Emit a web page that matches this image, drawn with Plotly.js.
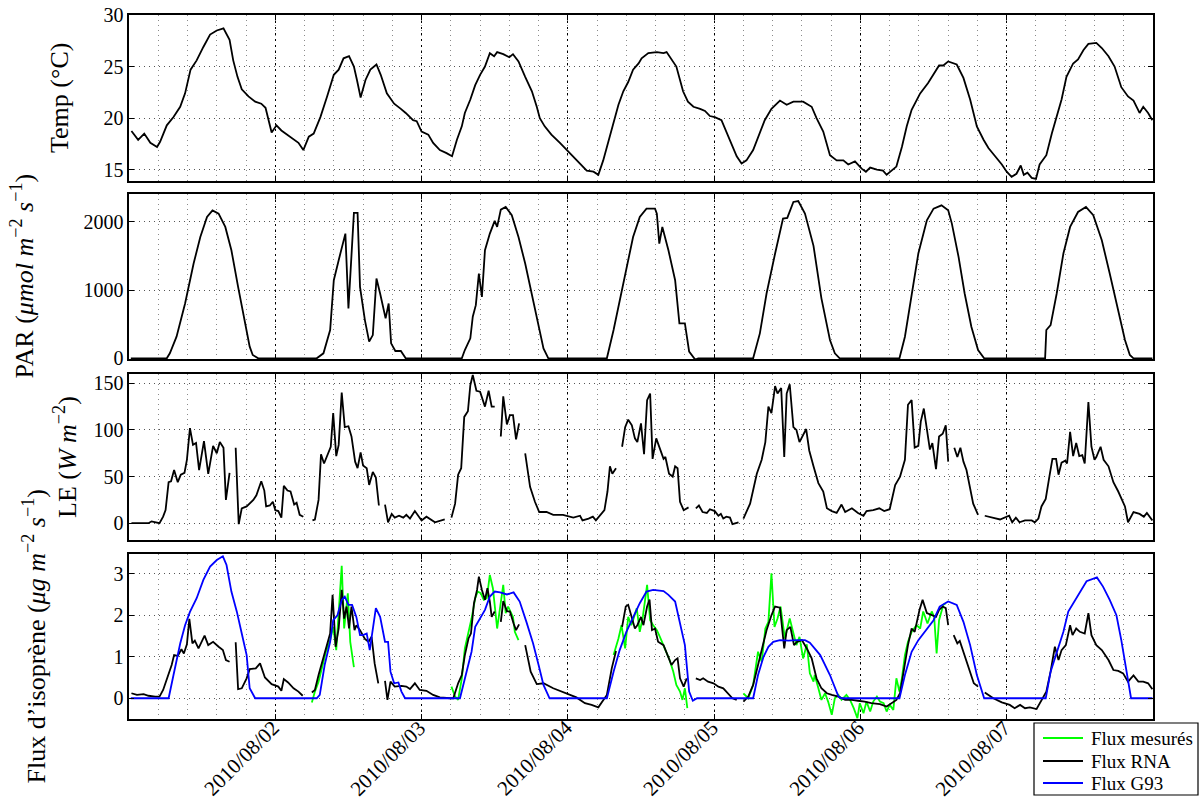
<!DOCTYPE html>
<html>
<head>
<meta charset="utf-8">
<script src="https://cdn.plot.ly/plotly-3.0.1.min.js"></script>
<style>html,body{margin:0;padding:0;background:#fff;}#chart{width:1201px;height:810px;}</style>
</head>
<body>
<div id="chart"></div>
<script>
// ---- DATA (hours since 2010-08-01 00:00, value) ----
const dayTickLabels = ["2010/08/02","2010/08/03","2010/08/04","2010/08/05","2010/08/06","2010/08/07"];
const dayTickHours = [24,48,72,96,120,144];

const tempSeries = [[0.4,18.75],[1.5,17.9],[2.5,18.5],[3.5,17.6],[4.6,17.2],[5.1,17.7],[6.2,19.3],[7.3,20.1],[8.4,21.1],[9.2,22.4],[10.1,24.7],[11.1,25.6],[12.2,26.9],[13.3,28.1],[14.4,28.5],[15.5,28.7],[16.5,27.6],[17.1,25.6],[17.8,24.0],[18.5,22.8],[19.6,22.1],[20.7,21.6],[21.7,21.4],[22.4,21.0],[23.4,18.6],[24.2,19.3],[25.0,18.8],[25.9,18.4],[27.0,18.0],[27.8,17.6],[28.6,16.9],[29.5,18.2],[30.3,18.5],[31.4,20.1],[32.5,22.1],[33.6,24.2],[34.4,24.7],[35.2,25.8],[36.1,26.0],[36.9,25.0],[37.4,23.7],[38.0,22.0],[38.8,23.7],[39.6,24.7],[40.6,25.2],[41.3,24.2],[42.3,22.4],[43.5,21.4],[44.6,20.9],[45.4,20.5],[46.6,19.8],[47.2,19.7],[48.0,18.7],[49.1,18.4],[49.9,17.6],[51.0,16.9],[52.1,16.6],[53.0,16.3],[53.8,17.9],[54.6,19.2],[55.1,20.5],[56.0,21.8],[56.8,23.2],[57.6,24.2],[58.4,25.0],[59.2,26.3],[59.9,26.0],[60.4,26.4],[61.4,26.2],[62.4,25.9],[63.0,26.2],[63.9,25.5],[65.0,24.0],[66.1,22.6],[66.9,21.1],[67.4,20.0],[68.2,19.2],[69.3,18.4],[70.7,17.6],[71.8,16.9],[72.9,16.3],[74.0,15.6],[75.1,14.9],[76.2,14.8],[77.0,14.5],[77.8,15.9],[78.6,17.6],[79.4,19.5],[80.3,21.3],[81.1,22.6],[81.9,23.5],[82.7,24.7],[83.6,25.3],[84.1,25.8],[85.2,26.3],[86.6,26.4],[87.7,26.3],[88.2,26.4],[89.0,25.7],[89.8,25.0],[90.4,23.7],[90.9,22.6],[91.7,21.6],[92.6,21.1],[93.7,20.9],[94.5,20.7],[95.3,20.2],[96.1,20.1],[97.2,19.8],[98.3,18.2],[99.7,16.3],[100.5,15.6],[101.3,15.9],[102.4,16.9],[103.2,18.2],[104.3,19.8],[105.4,20.9],[106.8,21.7],[107.9,21.3],[109.0,21.6],[110.6,21.6],[112.0,21.1],[112.8,20.0],[113.9,18.7],[115.0,16.4],[116.1,15.9],[117.2,15.9],[118.0,15.5],[119.1,15.8],[120.2,15.1],[120.9,14.8],[121.6,15.2],[122.7,15.0],[123.7,14.9],[124.3,14.5],[125.1,14.9],[125.9,15.3],[126.8,17.2],[127.6,19.2],[128.4,20.8],[129.8,22.4],[131.1,23.4],[132.0,24.2],[132.9,25.1],[133.6,25.1],[134.4,25.5],[135.8,25.2],[136.9,23.9],[138.0,21.8],[139.1,19.2],[140.2,17.9],[141.0,17.1],[142.1,16.3],[143.2,15.5],[144.0,14.8],[144.8,14.3],[145.6,14.6],[146.3,15.4],[146.8,14.5],[147.4,14.7],[148.1,14.2],[148.8,14.1],[149.4,15.5],[150.5,16.4],[151.4,18.5],[152.2,20.1],[153.0,21.8],[153.8,24.0],[154.9,25.3],[155.7,25.7],[156.6,26.6],[157.4,27.2],[158.7,27.3],[159.6,26.8],[160.7,26.0],[161.7,25.0],[162.8,23.0],[163.9,22.1],[164.8,21.7],[165.8,20.5],[166.4,21.1],[167.2,20.5],[167.9,19.8]];

const parSeries = [[0.3,0],[6.2,0],[6.7,73],[7.8,317],[9.2,805],[10.6,1390],[11.7,1780],[12.8,2073],[13.7,2170],[14.7,2122],[15.8,1927],[16.8,1585],[17.9,1049],[19.0,561],[19.8,171],[20.3,49],[21.2,0],[30.8,0],[31.9,73],[33.0,415],[33.6,1146],[34.4,1439],[35.0,1634],[35.5,1829],[36.0,732],[36.9,2132],[37.5,2132],[37.9,1049],[38.7,561],[39.4,244],[40.0,341],[40.6,1171],[41.2,951],[42.1,585],[42.6,805],[43.0,220],[43.7,107],[44.6,107],[45.4,0],[54.6,0],[55.1,122],[55.7,254],[56.0,293],[56.4,610],[56.9,780],[57.4,1244],[57.9,902],[58.4,1585],[59.2,1829],[60.0,2015],[60.4,1927],[61.0,2180],[61.8,2220],[62.8,2098],[63.9,1780],[65.0,1390],[66.1,951],[67.2,512],[68.0,146],[68.8,0],[78.4,0],[79.5,415],[80.6,878],[81.6,1341],[82.7,1780],[83.8,2073],[84.9,2195],[86.3,2195],[86.6,2122],[87.0,1683],[87.5,1927],[88.5,1585],[89.6,1146],[90.3,512],[91.2,512],[91.9,98],[92.9,-20],[93.4,0],[102.4,0],[103.5,366],[104.6,951],[106.0,1537],[107.3,2049],[108.0,2059],[109.0,2293],[109.8,2307],[110.9,2122],[112.3,1650],[113.6,880],[115.0,268],[115.8,73],[116.6,0],[126.4,0],[127.3,317],[128.4,902],[129.5,1537],[130.9,2024],[132.0,2195],[133.3,2244],[134.4,2170],[135.0,1976],[136.1,1488],[137.1,951],[138.2,463],[139.3,122],[140.3,0],[150.3,0],[150.5,415],[151.2,488],[152.2,951],[153.3,1537],[154.4,1927],[155.7,2146],[157.0,2220],[158.2,2098],[159.6,1732],[160.9,1244],[162.3,707],[163.4,268],[164.2,49],[164.8,0],[167.9,0]];

const leSeries = [[0.4,0],[3.2,0],[3.7,2],[4.3,1],[5.0,0],[5.6,7],[6.0,14],[6.5,44],[6.9,45],[7.4,57],[8.0,44],[8.5,52],[9.1,54],[9.5,68],[10.0,102],[10.5,84],[11.0,86],[11.5,57],[12.3,88],[13.0,53],[13.8,83],[14.4,75],[14.9,87],[15.5,81],[15.9,25],[16.5,54],[17.0,null],[17.5,81],[18.0,-1],[18.5,16],[19.3,18],[20.4,25],[20.9,30],[21.7,45],[22.2,35],[22.5,18],[23.1,19],[23.6,23],[24.0,14],[24.5,13],[25.0,6],[25.4,40],[26.0,35],[26.5,34],[27.1,20],[27.5,22],[28.0,9],[28.6,7],[29.3,null],[30.1,3],[30.5,4],[31.1,25],[31.5,74],[32.0,64],[32.7,75],[33.1,82],[33.5,118],[34.0,72],[34.4,84],[34.9,140],[35.4,103],[36.0,104],[36.5,93],[37.1,66],[37.5,59],[38.0,76],[38.4,62],[39.0,59],[39.4,41],[40.0,55],[40.5,49],[41.0,19],[41.5,null],[42.0,20],[42.5,1],[43.1,10],[43.6,6],[44.3,8],[45.0,6],[45.5,9],[46.1,5],[46.9,13],[47.7,5],[48.0,3],[48.8,7],[50.2,1],[51.8,4],[52.3,null],[52.9,6],[53.5,21],[54.0,52],[54.5,59],[55.0,114],[55.6,120],[56.0,148],[56.4,159],[57.0,142],[57.6,141],[58.4,125],[59.0,142],[59.5,125],[60.0,125],[60.5,null],[61.0,93],[61.4,136],[62.0,106],[62.5,116],[63.0,116],[63.5,90],[64.0,107],[64.5,null],[65.0,75],[65.8,39],[66.6,23],[67.3,12],[68.5,12],[69.6,9],[71.2,9],[72.9,6],[74.0,8],[74.4,3],[75.4,5],[76.1,7],[76.6,3],[77.3,9],[78.0,14],[78.5,34],[78.9,61],[79.3,53],[79.9,59],[80.4,null],[80.9,82],[81.4,103],[81.9,111],[82.5,105],[83.0,91],[83.4,87],[84.0,107],[84.5,74],[85.0,132],[85.5,139],[85.9,69],[86.5,91],[87.1,80],[87.7,69],[88.0,71],[88.6,53],[89.2,50],[89.6,61],[90.0,59],[90.4,23],[91.0,14],[91.8,17],[92.4,null],[93.0,16],[93.5,19],[94.1,12],[94.8,11],[95.3,15],[96.1,13],[96.7,8],[97.1,10],[97.5,5],[98.0,7],[98.6,6],[99.0,-1],[100.0,1],[100.4,null],[100.8,5],[101.9,21],[103.0,53],[103.8,68],[104.4,87],[104.9,125],[105.4,118],[106.0,147],[106.4,139],[107.0,145],[107.5,71],[107.9,139],[108.4,149],[109.0,103],[109.5,100],[110.0,87],[111.1,101],[111.6,78],[112.3,61],[113.1,43],[113.9,34],[114.5,16],[115.3,13],[116.1,11],[116.9,20],[117.5,12],[118.6,16],[119.6,11],[120.5,8],[121.0,13],[122.1,14],[123.1,16],[123.9,13],[124.8,15],[125.7,41],[126.5,50],[127.3,68],[127.8,127],[128.4,132],[128.9,81],[129.5,83],[129.9,109],[130.4,123],[131.0,93],[131.4,79],[131.8,86],[132.4,58],[132.9,93],[133.5,96],[134.0,105],[134.4,66],[134.9,null],[135.4,81],[135.9,71],[136.4,81],[136.9,66],[137.4,57],[138.0,37],[138.5,21],[139.3,9],[139.8,null],[140.4,8],[141.8,6],[142.9,4],[144.4,8],[144.9,1],[145.5,6],[146.1,1],[147.0,3],[148.1,3],[148.6,1],[149.2,5],[149.7,18],[150.4,26],[151.0,50],[151.5,69],[152.1,69],[152.5,52],[153.0,65],[153.6,67],[153.9,64],[154.4,98],[154.9,72],[155.4,86],[155.9,72],[156.4,73],[156.8,64],[157.4,130],[157.9,82],[158.4,68],[158.7,71],[159.4,82],[159.9,68],[160.7,61],[161.5,44],[162.3,34],[163.4,18],[163.9,1],[164.8,12],[165.8,10],[166.5,7],[167.0,11],[167.9,3]];

const fluxMesures = [[30.0,-0.10],[30.5,0.16],[31.1,0.40],[31.6,0.72],[32.3,1.12],[33.0,1.40],[33.5,1.72],[34.0,1.16],[34.4,2.17],[34.9,3.19],[35.3,1.68],[35.9,2.53],[36.3,1.36],[36.9,0.75],[37.5,null],[52.9,0.28],[53.5,0.04],[54.0,-0.04],[54.6,0.48],[55.1,1.20],[55.7,1.60],[56.2,1.92],[56.8,2.41],[57.2,2.57],[57.7,2.53],[58.2,2.37],[58.7,2.41],[59.2,2.97],[59.7,2.65],[60.4,1.68],[61.4,2.73],[61.8,2.05],[62.2,2.21],[63.0,1.96],[63.3,1.60],[63.9,1.40],[64.5,null],[79.5,1.04],[80.3,1.44],[80.8,1.76],[81.4,1.20],[81.9,1.96],[82.4,1.76],[82.7,1.88],[83.3,2.17],[83.8,1.60],[84.3,1.96],[85.0,2.73],[85.5,1.88],[86.0,1.76],[86.6,1.64],[87.1,1.48],[87.7,1.28],[88.2,1.08],[88.7,0.92],[89.3,0.64],[89.8,0.32],[90.4,0.16],[90.8,-0.04],[91.2,0.24],[91.6,-0.24],[92.2,null],[100.8,0.12],[101.6,0],[102.4,0.32],[103.2,1.12],[103.8,0.88],[104.4,1.68],[104.9,1.84],[105.4,3.01],[105.9,1.72],[106.4,1.92],[106.9,2.21],[107.6,1.44],[108.4,1.92],[109.0,1.60],[109.5,1.28],[110.0,1.48],[110.6,0.96],[111.2,1.30],[111.7,0.60],[112.3,0.40],[112.5,0.56],[113.1,0.24],[113.6,-0.04],[114.2,0.12],[114.7,-0.08],[115.3,-0.40],[115.8,0],[116.4,0.08],[116.9,-0.04],[117.7,0.08],[118.3,-0.04],[118.9,-0.24],[119.5,-0.48],[119.9,-0.12],[120.5,-0.36],[121.0,-0.08],[121.6,-0.32],[122.1,-0.08],[122.7,0.04],[123.2,-0.08],[123.8,-0.12],[124.3,-0.32],[124.8,-0.16],[125.4,-0.28],[125.9,0.48],[126.4,0.16],[126.8,0.48],[127.3,1.04],[127.8,1.36],[128.4,1.60],[129.2,1.76],[129.8,1.68],[130.3,2.09],[131.0,1.80],[131.7,2.09],[132.1,1.96],[132.5,1.08],[132.9,1.88],[133.6,2.25],[134.0,2.29]];

const fluxRNA = [[0.4,0.12],[1.3,0.08],[2.4,0.10],[3.2,0.06],[4.3,0.04],[5.0,0.04],[5.6,0.20],[6.5,0.60],[7.0,0.80],[7.4,1.04],[8.0,1.02],[8.6,1.18],[9.0,1.08],[9.5,1.30],[9.9,1.91],[10.4,1.32],[10.8,1.39],[11.4,1.20],[12.4,1.51],[13.0,1.28],[13.8,1.36],[14.7,1.24],[15.4,1.16],[15.9,0.92],[16.5,0.88],[17.0,null],[17.5,1.35],[17.9,0.22],[18.5,0.24],[19.3,0.48],[19.8,0.70],[20.8,0.72],[21.5,0.84],[22.3,0.50],[23.4,0.34],[24.5,0.28],[25.0,0.18],[25.4,0.46],[26.1,0.38],[27.0,0.24],[27.8,0.16],[28.5,0.06],[29.3,null],[30.0,0.14],[30.5,0.20],[31.1,0.56],[31.6,0.84],[32.3,1.20],[33.0,1.56],[33.4,2.49],[33.9,1.24],[34.4,1.68],[34.9,2.61],[35.3,1.92],[35.7,2.21],[36.1,1.68],[36.5,2.21],[37.0,1.64],[37.3,1.76],[37.9,1.64],[38.7,1.43],[39.3,1.36],[39.8,1.48],[40.3,0.84],[40.9,0.36],[41.5,null],[42.0,0.42],[42.4,-0.04],[42.9,0.40],[43.6,0.28],[44.7,0.30],[45.5,0.28],[46.1,0.22],[46.9,0.36],[47.7,0.20],[48.8,0.18],[49.9,0.08],[51.0,0.02],[52.7,0],[53.2,0],[54.0,0.36],[54.6,0.56],[55.1,1.04],[55.7,1.44],[56.1,1.56],[56.6,2.29],[57.1,2.61],[57.4,2.93],[57.9,2.61],[58.4,2.37],[58.8,2.65],[59.2,2.33],[59.5,1.96],[60.0,2.09],[60.5,null],[61.0,1.84],[61.4,2.34],[62.0,2.10],[62.5,2.09],[63.1,1.80],[63.5,1.64],[64.0,1.78],[64.5,null],[65.0,1.28],[65.9,0.64],[66.9,0.34],[68.0,0.36],[69.6,0.24],[71.8,0.12],[73.4,0.02],[74.8,-0.12],[75.9,-0.16],[77.0,-0.22],[77.5,-0.12],[78.4,0.08],[79.2,0.72],[79.9,1.14],[80.4,null],[80.9,1.72],[81.5,2.21],[81.9,2.25],[82.5,1.96],[83.0,1.68],[83.4,1.76],[84.0,1.96],[84.4,1.76],[85.0,2.21],[85.4,2.38],[85.8,1.64],[86.3,1.68],[86.8,1.36],[87.7,1.28],[88.5,0.96],[89.0,0.80],[89.6,0.92],[90.0,0.96],[90.4,0.48],[91.0,0.28],[91.5,0.48],[92.2,null],[93.0,0.48],[93.7,0.44],[94.2,0.48],[95.0,0.40],[95.9,0.36],[96.7,0.28],[97.5,0.24],[98.3,0.12],[99.0,0],[99.7,-0.04],[100.3,null],[100.8,-0.08],[101.6,0.04],[102.4,0.32],[103.5,0.96],[104.6,1.64],[105.4,2.00],[106.0,2.21],[106.8,2.18],[107.5,1.20],[107.9,1.64],[108.5,1.72],[109.1,1.28],[109.6,1.36],[110.4,1.40],[111.2,1.20],[112.0,0.96],[112.8,0.48],[113.6,0.24],[114.5,0.12],[115.3,0.08],[116.4,0.04],[117.5,-0.04],[118.6,-0.04],[119.6,-0.06],[120.7,-0.08],[121.8,-0.12],[123.2,-0.14],[124.3,-0.20],[125.1,-0.12],[125.9,-0.04],[126.5,0.12],[127.3,0.88],[127.8,1.28],[128.4,1.68],[128.9,1.60],[129.7,2.13],[130.2,2.37],[130.9,2.05],[131.7,2.00],[132.4,1.96],[132.9,2.13],[133.5,2.21],[134.0,2.17],[134.4,1.76],[134.9,null],[135.3,1.52],[135.9,1.32],[136.3,1.38],[136.9,1.12],[137.4,0.92],[138.0,0.64],[138.6,0.36],[139.3,0.28],[139.8,null],[140.4,0.14],[141.8,0],[143.2,-0.10],[144.5,-0.16],[145.3,-0.24],[146.2,-0.16],[147.0,-0.24],[147.8,-0.22],[148.9,-0.26],[149.7,-0.04],[150.5,0.16],[151.2,0.64],[151.9,1.24],[152.5,0.92],[153.0,1.16],[153.7,1.28],[154.4,1.76],[154.8,1.52],[155.4,1.68],[156.0,1.60],[156.8,1.56],[157.4,2.05],[157.9,1.52],[158.7,1.28],[159.6,1.16],[160.7,0.92],[161.5,0.68],[162.3,0.66],[163.1,0.60],[163.9,0.40],[164.8,0.55],[165.6,0.40],[166.4,0.40],[167.2,0.36],[167.9,0.22]];

const fluxG93 = [[0.3,0],[6.5,0],[7.3,0.56],[8.4,1.32],[9.2,1.76],[10.0,2.08],[11.1,2.41],[12.2,2.85],[13.3,3.17],[14.4,3.33],[15.4,3.42],[16.0,3.21],[16.8,2.57],[17.7,2.08],[18.5,1.56],[19.3,1.04],[19.8,0.24],[20.7,0],[30.8,0],[31.3,0.08],[32.1,0.80],[33.0,1.36],[33.5,1.88],[34.2,2.00],[34.9,2.37],[35.4,2.45],[36.0,2.25],[36.6,2.25],[37.3,1.96],[37.9,1.52],[38.4,1.52],[39.0,1.56],[39.5,1.16],[40.0,1.64],[40.5,2.17],[41.2,1.96],[42.0,1.36],[42.5,1.36],[42.9,0.64],[43.5,0.36],[44.2,0.38],[44.7,0.16],[45.3,0],[54.3,0],[55.1,0.48],[55.7,0.84],[56.2,1.12],[56.8,1.72],[57.6,1.92],[58.4,2.13],[59.2,2.45],[60.0,2.57],[60.9,2.55],[62.0,2.50],[63.1,2.55],[64.1,2.33],[65.2,1.84],[66.3,1.32],[67.2,0.80],[68.0,0.32],[69.0,0],[78.4,0],[79.5,0.64],[80.5,1.16],[81.6,1.60],[82.7,1.96],[83.8,2.29],[84.9,2.57],[86.0,2.61],[87.7,2.58],[88.5,2.49],[89.6,2.33],[90.4,1.84],[91.2,1.28],[91.9,0.16],[92.5,-0.06],[93.2,0],[102.4,0],[103.2,0.56],[104.1,1.00],[104.9,1.24],[105.7,1.36],[106.8,1.40],[108.2,1.39],[109.5,1.40],[110.9,1.40],[111.7,1.34],[113.4,1.04],[115.0,0.56],[116.4,0.04],[116.9,0],[126.4,0],[127.3,0.56],[128.4,1.12],[129.5,1.40],[130.9,1.68],[132.0,1.88],[133.0,2.21],[134.4,2.33],[135.8,2.25],[136.9,1.84],[138.0,1.28],[139.1,0.56],[140.3,0],[150.4,0],[151.2,0.64],[152.2,1.12],[153.3,1.60],[154.1,2.09],[154.9,2.29],[155.9,2.53],[157.1,2.82],[158.8,2.91],[159.8,2.69],[160.9,2.37],[162.0,2.00],[162.8,1.40],[163.7,0.56],[164.4,0],[167.9,0]];

const seriesNames = ["Flux mesurés","Flux RNA","Flux G93"];
const seriesColors = ["#00ff00","#000000","#0000ff"];

// ---- helpers ----
const T0 = Date.UTC(2010, 7, 1);
function toDate(h){ const d = new Date(T0 + h*3600000); return d.toISOString().replace('T',' ').slice(0,19); }
function xs(s){ return s.map(p => toDate(p[0])); }
function ys(s){ return s.map(p => p[1]); }

const FONT = "Liberation Serif, Times New Roman, serif";
const LW = 1.8;

function line(series, color, xa, ya, name){
  return {type:'scatter', mode:'lines', x: xs(series), y: ys(series), xaxis: xa, yaxis: ya,
    line:{color: color, width: LW}, connectgaps:false, name: name || 'serie', showlegend:false, hoverinfo:'skip'};
}

const traces = [
  line(tempSeries, '#000', 'x', 'y', 'Temp'),
  line(parSeries, '#000', 'x2', 'y2', 'PAR'),
  line(leSeries, '#000', 'x3', 'y3', 'LE'),
  line(fluxMesures, seriesColors[0], 'x4', 'y4', seriesNames[0]),
  line(fluxRNA, seriesColors[1], 'x4', 'y4', seriesNames[1]),
  line(fluxG93, seriesColors[2], 'x4', 'y4', seriesNames[2])
];

// ---- layout ----
const W = 1201, H = 810, ML = 129, MR = 48, MT = 15, MB = 91;
const PW = W - ML - MR, PH = H - MT - MB;
const plotBottom = H - MB;
function px2x(px){ return (px - ML)/PW; }
function px2y(py){ return (plotBottom - py)/PH; }
function dom(topPx, botPx){ return [px2y(botPx), px2y(topPx)]; }
const panels = [[15,181],[194,359],[374,540],[554,719]];

const tickVals = dayTickHours.map(toDate);
function xaxis(i){
  const ax = {
    type:'date', range:[toDate(0), toDate(168)], anchor: 'y'+(i===1?'':i),
    tickmode:'array', tickvals: tickVals, showticklabels: false,
    ticks:'inside', ticklen:5, tickcolor:'#000', tickwidth:1,
    showline:true, linecolor:'#000', linewidth:1.6, mirror:'ticks',
    showgrid:true, gridcolor:'#000', gridwidth:1.2, griddash:'2px,4px',
    minor:{tickmode:'linear', tick0: toDate(0), dtick: 0.2*86400000, showgrid:true, gridcolor:'#8a8a8a', gridwidth:1, griddash:'1px,4px', ticks:''},
    zeroline:false, fixedrange:true
  };
  if (i !== 1) ax.matches = 'x';
  return ax;
}
function yaxis(i, range, tv){
  return {
    domain: dom(panels[i-1][0], panels[i-1][1]), anchor: 'x'+(i===1?'':i), range: range,
    tickmode:'array', tickvals: tv, tickfont:{family:FONT, size:20, color:'#000'},
    ticks:'inside', ticklen:5, tickcolor:'#000', tickwidth:1,
    showline:true, linecolor:'#000', linewidth:1.6, mirror:'ticks',
    showgrid:true, gridcolor:'#555', gridwidth:1, griddash:'1px,4px',
    zeroline:false, fixedrange:true
  };
}

function annY(i){ const d = dom(panels[i-1][0], panels[i-1][1]); return (d[0]+d[1])/2; }
const titleFont = {family:FONT, size:26, color:'#000'};
const annotations = [
  {text:'Temp (°C)', x: px2x(59), y: annY(1)},
  {text:'PAR (<i>μmol m</i><sup>−2</sup> <i>s</i><sup>−1</sup>)', x: px2x(23), y: annY(2)},
  {text:'LE (<i>W m</i><sup>−2</sup>)', x: px2x(65), y: annY(3)},
  {text:'Flux d\u2019isoprène (<i>μg m</i><sup>−2</sup> <i>s</i><sup>−1</sup>)', x: px2x(35), y: annY(4)}
].map(a => Object.assign(a, {xref:'paper', yref:'paper', textangle:-90, showarrow:false, xanchor:'center', yanchor:'middle', font:titleFont}));

// rotated date labels under the bottom panel, placed at the tick dates
dayTickLabels.forEach((lab, k) => {
  annotations.push({text:lab, xref:'x4', yref:'paper', x: tickVals[k], y: px2y(713), xanchor:'right', yanchor:'top',
    xshift: 12, textangle:-45, showarrow:false, font:{family:FONT, size:21, color:'#000'}});
});

// legend box (drawn like the reference's boxed legend)
const legBox = {x0:1034, x1:1198, y0:723, y1:795};
const legRows = [738, 761, 783];
const shapes = [{type:'rect', xref:'paper', yref:'paper', x0:px2x(legBox.x0), x1:px2x(legBox.x1), y0:px2y(legBox.y1), y1:px2y(legBox.y0),
  line:{color:'#000', width:1.2}, fillcolor:'#fff', layer:'above'}];
seriesNames.forEach((n, k) => {
  shapes.push({type:'line', xref:'paper', yref:'paper', x0:px2x(1043), x1:px2x(1083), y0:px2y(legRows[k]), y1:px2y(legRows[k]),
    line:{color:seriesColors[k], width:LW}, layer:'above'});
  annotations.push({text:n, xref:'paper', yref:'paper', x:px2x(1089), y:px2y(legRows[k]), xanchor:'left', yanchor:'middle',
    showarrow:false, font:{family:FONT, size:19, color:'#000'}});
});

const layout = {
  width:W, height:H,
  margin:{l:ML, r:MR, t:MT, b:MB, pad:0},
  paper_bgcolor:'#fff', plot_bgcolor:'#fff',
  font:{family:FONT, color:'#000'},
  showlegend:false,
  xaxis: xaxis(1), xaxis2: xaxis(2), xaxis3: xaxis(3), xaxis4: xaxis(4),
  yaxis: yaxis(1,[13.9,30],[15,20,25,30]),
  yaxis2: yaxis(2,[-10,2410],[0,1000,2000]),
  yaxis3: yaxis(3,[-18,160],[0,50,100,150]),
  yaxis4: yaxis(4,[-0.5,3.475],[0,1,2,3]),
  shapes: shapes,
  annotations: annotations
};

Plotly.newPlot('chart', traces, layout, {staticPlot:true, displayModeBar:false});
</script>
</body>
</html>
